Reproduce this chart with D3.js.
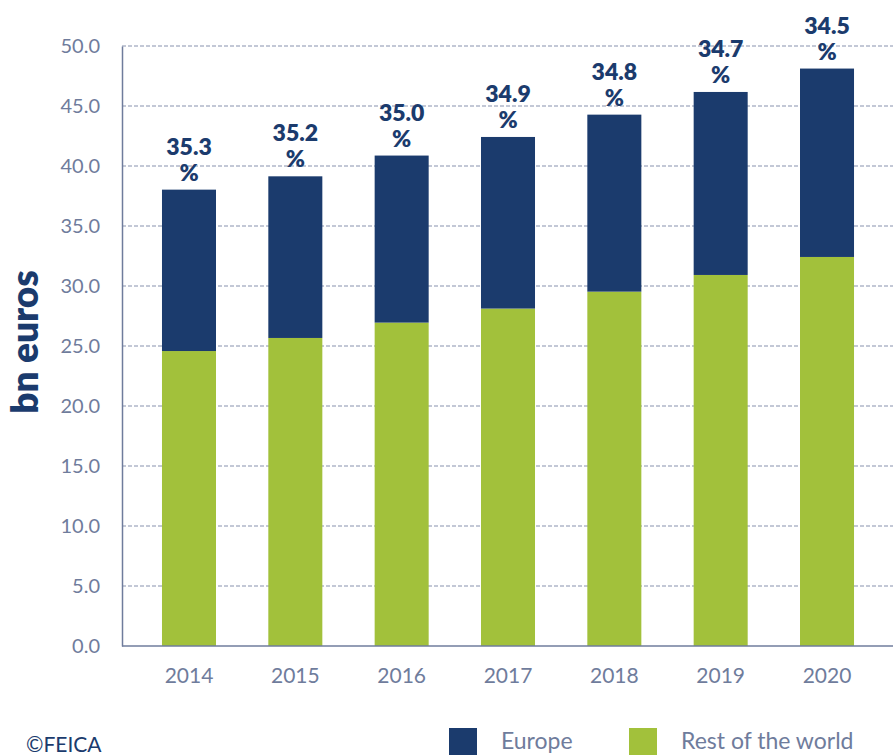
<!DOCTYPE html>
<html>
<head>
<meta charset="utf-8">
<script src="https://d3js.org/d3.v7.min.js"></script>
<style>
  body { margin: 0; background: #fff; }
  svg text { font-family: Lato, "Open Sans", sans-serif; }
</style>
</head>
<body>
<div id="chart"></div>
<script>

// values (bn euros)
const years = ["2014", "2015", "2016", "2017", "2018", "2019", "2020"];
const europe = [13.45, 13.47, 13.92, 14.30, 14.75, 15.25, 15.70];
const restOfWorld = [24.58, 25.67, 26.95, 28.12, 29.53, 30.92, 32.42];
const europeShare = ["35.3", "35.2", "35.0", "34.9", "34.8", "34.7", "34.5"];
const yTicks = [0, 5, 10, 15, 20, 25, 30, 35, 40, 45, 50];

const navy = "#1b3b6d";
const green = "#a2c13b";
const axisGrey = "#6f7c9c";

const width = 893, height = 755;

let svg = d3.select("#chart").append("svg")
    .attr("width", width)
    .attr("height", height);

let x = d3.scaleBand()
    .domain(years)
    .range([122, 894])
    .paddingInner(0.492)
    .paddingOuter(0.376);

let y = d3.scaleLinear()
    .domain([0, 50])
    .range([646, 46]);

// gridlines
svg.append("g")
    .selectAll("line")
    .data(yTicks.filter(d => d > 0))
    .enter().append("line")
    .attr("x1", 122)
    .attr("x2", width)
    .attr("y1", d => y(d))
    .attr("y2", d => y(d))
    .attr("stroke", "#8791ad")
    .attr("stroke-width", 1.2)
    .attr("stroke-dasharray", "4,2");

// stacked bars
let rows = years.map((yr, i) => ({ year: yr, rest: restOfWorld[i], europe: europe[i] }));
let series = d3.stack().keys(["rest", "europe"])(rows);
let colors = { rest: green, europe: navy };

svg.append("g")
    .selectAll("g")
    .data(series)
    .enter().append("g")
    .attr("fill", d => colors[d.key])
    .selectAll("rect")
    .data(d => d)
    .enter().append("rect")
    .attr("x", d => x(d.data.year))
    .attr("width", x.bandwidth())
    .attr("y", d => y(d[1]))
    .attr("height", d => y(d[0]) - y(d[1]));

// y axis
let yAxis = svg.append("g")
    .attr("transform", "translate(122,0)")
    .call(d3.axisLeft(y).tickValues(yTicks).tickFormat(d3.format(".1f")).tickSize(0).tickPadding(22));
yAxis.select(".domain").attr("stroke", axisGrey).attr("stroke-width", 1.5);
yAxis.selectAll("text")
    .attr("fill", axisGrey)
    .style("font-size", "20px")
    .style("font-weight", 400);

// x axis
let xAxis = svg.append("g")
    .attr("transform", `translate(0,${y(0)})`)
    .call(d3.axisBottom(x).tickSize(0).tickPadding(22));
xAxis.select(".domain")
    .attr("d", `M122,0H${width}`)
    .attr("stroke", axisGrey)
    .attr("stroke-width", 1.5);
xAxis.selectAll("text")
    .attr("fill", axisGrey)
    .style("font-size", "21px")
    .style("font-weight", 400);

// share labels above bars
let labels = svg.append("g")
    .selectAll("g")
    .data(rows)
    .enter().append("g")
    .attr("transform", d => `translate(${x(d.year) + x.bandwidth() / 2},${y(d.rest + d.europe)})`);

labels.append("text")
    .attr("y", -35)
    .attr("text-anchor", "middle")
    .attr("fill", navy)
    .style("font-size", "23px")
    .style("font-weight", 800)
    .text((d, i) => europeShare[i]);

labels.append("text")
    .attr("y", -9)
    .attr("text-anchor", "middle")
    .attr("fill", navy)
    .style("font-size", "23px")
    .style("font-weight", 800)
    .text("%");

// y axis title
svg.append("text")
    .attr("transform", "translate(38,342) rotate(-90)")
    .attr("text-anchor", "middle")
    .attr("fill", navy)
    .style("font-size", "37px")
    .style("font-weight", 800)
    .text("bn euros");

// copyright
svg.append("text")
    .attr("x", 26)
    .attr("y", 752)
    .attr("fill", navy)
    .style("font-size", "21px")
    .text("©FEICA");

// legend
let legendItems = [
    { name: "Europe", color: navy, x: 449 },
    { name: "Rest of the world", color: green, x: 629 }
];
let legend = svg.append("g")
    .selectAll("g")
    .data(legendItems)
    .enter().append("g")
    .attr("transform", d => `translate(${d.x},728)`);

legend.append("rect")
    .attr("width", 28)
    .attr("height", 28)
    .attr("fill", d => d.color);

legend.append("text")
    .attr("x", 52)
    .attr("y", 21)
    .attr("fill", axisGrey)
    .style("font-size", "23px")
    .style("font-weight", 400)
    .text(d => d.name);

</script>
</body>
</html>
